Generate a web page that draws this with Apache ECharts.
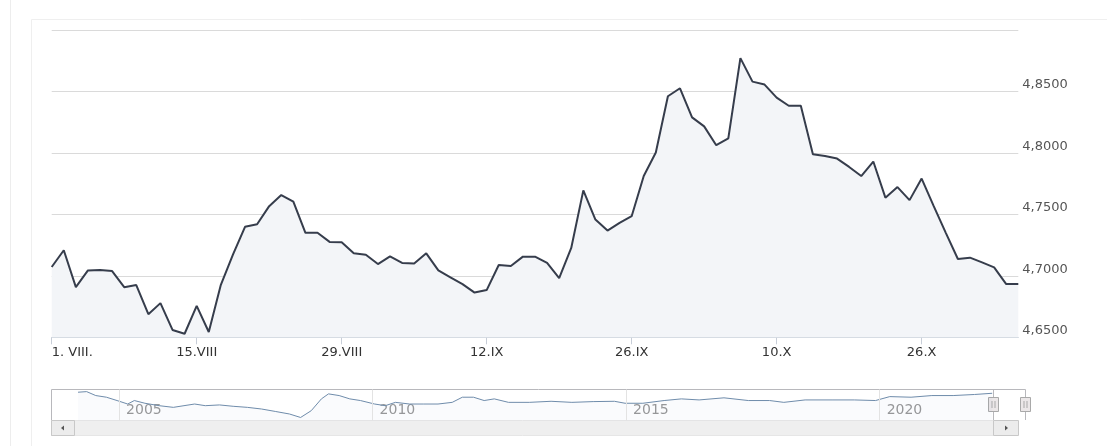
<!DOCTYPE html>
<html>
<head>
<meta charset="utf-8">
<script src="https://cdn.jsdelivr.net/npm/echarts@6/dist/echarts.min.js"></script>
<style>
  html, body { margin: 0; padding: 0; background: #ffffff; }
  #chart { width: 1107px; height: 446px; }
</style>
</head>
<body>
<div id="chart"></div>
<script>
// ---- main series: daily rate, one point per trading session ----
var rateValues = [
  4.7072, 4.7208, 4.6908, 4.7044, 4.7047, 4.7039, 4.6908, 4.6925, 4.6688, 4.6778,
  4.6560, 4.6529, 4.6756, 4.6543, 4.6927, 4.7172, 4.7399, 4.7420, 4.7567, 4.7657,
  4.7603, 4.7350, 4.7350, 4.7276, 4.7273, 4.7183, 4.7172, 4.7096, 4.7158, 4.7105,
  4.7101, 4.7183, 4.7044, 4.6987, 4.6933, 4.6864, 4.6884, 4.7088, 4.7080, 4.7156,
  4.7156, 4.7105, 4.6982, 4.7227, 4.7695, 4.7458, 4.7368, 4.7431, 4.7485, 4.7812,
  4.8003, 4.8461, 4.8526, 4.8289, 4.8216, 4.8063, 4.8118, 4.8771, 4.8580, 4.8556,
  4.8450, 4.8384, 4.8384, 4.7989, 4.7975, 4.7954, 4.7886, 4.7812, 4.7930, 4.7636,
  4.7722, 4.7616, 4.7791, 4.7567, 4.7350, 4.7137, 4.7148, 4.7109, 4.7069, 4.6933,
  4.6933
];
// session position of each date tick and its label
var tickIndices = [0, 12, 24, 36, 48, 60, 72];
var tickLabels  = ['1. VIII.', '15.VIII', '29.VIII', '12.IX', '26.IX', '10.X', '26.X'];
var categories = rateValues.map(function (v, i) { return String(i); });

// y axis range
var yMin = 4.65, yMax = 4.90, yStep = 0.05;

// ---- navigator: long-term history (fractional year, rate) ----
var navYears = [
  2004.19, 2004.36, 2004.54, 2004.75, 2004.96, 2005.17, 2005.30, 2005.51, 2005.79, 2006.07,
  2006.28, 2006.49, 2006.70, 2006.98, 2007.25, 2007.53, 2007.81, 2008.08, 2008.36, 2008.58,
  2008.79, 2008.99, 2009.13, 2009.34, 2009.55, 2009.76, 2010.04, 2010.25, 2010.45, 2010.73,
  2011.01, 2011.29, 2011.57, 2011.77, 2011.99, 2012.20, 2012.40, 2012.68, 2013.09, 2013.52,
  2013.93, 2014.35, 2014.77, 2014.98, 2015.33, 2015.75, 2016.09, 2016.44, 2016.93, 2017.41,
  2017.83, 2018.11, 2018.53, 2019.08, 2019.50, 2019.92, 2020.20, 2020.62, 2021.03, 2021.45,
  2021.87, 2022.22
];
var navValues = [
  4.87, 4.91, 4.65, 4.54, 4.32, 4.09, 4.32, 4.14, 3.98, 3.87,
  3.98, 4.09, 3.98, 4.03, 3.94, 3.87, 3.76, 3.60, 3.43, 3.20,
  3.65, 4.43, 4.76, 4.65, 4.43, 4.32, 4.09, 3.98, 4.20, 4.09,
  4.09, 4.09, 4.20, 4.54, 4.54, 4.32, 4.43, 4.20, 4.20, 4.27,
  4.20, 4.25, 4.27, 4.14, 4.14, 4.32, 4.43, 4.36, 4.50, 4.32,
  4.32, 4.20, 4.36, 4.36, 4.36, 4.32, 4.58, 4.54, 4.65, 4.65,
  4.72, 4.80
];
var navYearLabels = [2005, 2010, 2015, 2020];
var navXMin = 2003.667, navXMax = 2022.877;
var navYMin = 3.0, navYMax = 5.05;

var navData = navYears.map(function (y, i) { return [y, navValues[i]]; });

var FONT = '"DejaVu Sans", Verdana, sans-serif';
var chart = echarts.init(document.getElementById('chart'), null, { renderer: 'canvas' });

function handle(x) {
  return [
    { type: 'rect', shape: { x: x, y: 397.5, width: 10, height: 14 },
      style: { fill: '#ebe7e8', stroke: '#a9a9a9', lineWidth: 1 }, silent: true },
    { type: 'line', shape: { x1: x + 3.5, y1: 401, x2: x + 3.5, y2: 408 },
      style: { stroke: '#a9a9a9', lineWidth: 1 }, silent: true },
    { type: 'line', shape: { x1: x + 6.5, y1: 401, x2: x + 6.5, y2: 408 },
      style: { stroke: '#a9a9a9', lineWidth: 1 }, silent: true }
  ];
}

var chrome = [
  // page frame
  { type: 'line', shape: { x1: 10.5, y1: 0, x2: 10.5, y2: 446 }, style: { stroke: '#ededed', lineWidth: 1 }, silent: true },
  { type: 'line', shape: { x1: 31.5, y1: 19.5, x2: 31.5, y2: 446 }, style: { stroke: '#efefef', lineWidth: 1 }, silent: true },
  { type: 'line', shape: { x1: 31.5, y1: 19.5, x2: 1107, y2: 19.5 }, style: { stroke: '#efefef', lineWidth: 1 }, silent: true },
  // navigator outline
  { type: 'polyline', shape: { points: [[51.5, 436], [51.5, 389.5], [1025.5, 389.5], [1025.5, 420]] },
    style: { stroke: '#b8b8bc', lineWidth: 1, fill: null }, silent: true },
  { type: 'line', shape: { x1: 993.5, y1: 389.5, x2: 993.5, y2: 420 }, style: { stroke: '#b8b8bc', lineWidth: 1 }, silent: true },
  // scrollbar track
  { type: 'rect', shape: { x: 51.5, y: 420.5, width: 942, height: 15 },
    style: { fill: '#efefef', stroke: '#e6e6e6', lineWidth: 1 }, silent: true },
  // left button
  { type: 'rect', shape: { x: 51.5, y: 420.5, width: 23, height: 15 },
    style: { fill: '#ececec', stroke: '#c8c8c8', lineWidth: 1 }, silent: true },
  { type: 'polygon', shape: { points: [[61, 428], [64, 425.5], [64, 430.5]] }, style: { fill: '#555555' }, silent: true },
  // right button
  { type: 'rect', shape: { x: 993.5, y: 420.5, width: 25, height: 15 },
    style: { fill: '#ececec', stroke: '#c8c8c8', lineWidth: 1 }, silent: true },
  { type: 'polygon', shape: { points: [[1008, 428], [1005, 425.5], [1005, 430.5]] }, style: { fill: '#555555' }, silent: true }
].concat(handle(988.5)).concat(handle(1020.5));

var option = {
  animation: false,
  backgroundColor: '#ffffff',
  textStyle: { fontFamily: FONT },
  grid: [
    { left: 51.7, right: 88.7, top: 30, height: 307.3, containLabel: false },
    { left: 51.5, right: 81.5, top: 389.5, height: 31, containLabel: false }
  ],
  xAxis: [
    {
      type: 'category', gridIndex: 0, data: categories, boundaryGap: false,
      axisLine: { show: true, lineStyle: { color: '#cdd3dc', width: 1 } },
      axisTick: {
        show: true, length: 7, lineStyle: { color: '#c8ced8' },
        interval: function (i) { return tickIndices.indexOf(i) >= 0; }
      },
      axisLabel: {
        show: true, color: '#333333', fontSize: 13, fontFamily: FONT, margin: 9,
        alignMinLabel: 'left',
        interval: function (i) { return tickIndices.indexOf(i) >= 0; },
        formatter: function (v, i) {
          var k = tickIndices.indexOf(Number(v));
          return k >= 0 ? tickLabels[k] : '';
        }
      },
      splitLine: { show: false }
    },
    {
      type: 'value', gridIndex: 1, min: navXMin, max: navXMax,
      axisLine: { show: false }, axisTick: { show: false }, splitLine: { show: false },
      axisLabel: {
        show: true, inside: true, customValues: navYearLabels, align: 'left',
        verticalAlign: 'bottom', margin: 3, padding: [0, 0, 0, 7],
        color: '#999999', fontSize: 14, fontFamily: FONT,
        formatter: function (v) { return String(Math.round(v)); }
      }
    }
  ],
  yAxis: [
    {
      type: 'value', gridIndex: 0, position: 'right', min: yMin, max: yMax, interval: yStep,
      axisLine: { show: false }, axisTick: { show: false },
      splitLine: { show: true, lineStyle: { color: '#dadada', width: 1 } },
      axisLabel: {
        show: true, showMaxLabel: false, align: 'left', verticalAlign: 'bottom', margin: 4,
        color: '#555555', fontSize: 13, fontFamily: FONT,
        formatter: function (v) { return v.toFixed(4).replace('.', ','); }
      }
    },
    {
      type: 'value', gridIndex: 1, min: navYMin, max: navYMax, show: false,
      splitLine: { show: false }
    }
  ],
  series: [
    {
      type: 'line', xAxisIndex: 0, yAxisIndex: 0, data: rateValues,
      symbol: 'none', showSymbol: false, smooth: false, silent: true,
      lineStyle: { color: '#363d4c', width: 2 },
      areaStyle: { color: '#f3f5f8', origin: 'start', opacity: 1 },
      z: 3
    },
    {
      type: 'line', xAxisIndex: 1, yAxisIndex: 1, data: navData,
      symbol: 'none', showSymbol: false, silent: true,
      lineStyle: { color: '#6f8cab', width: 1 },
      areaStyle: { color: 'rgba(69,114,167,0.04)', origin: 'start' },
      markLine: {
        silent: true, symbol: ['none', 'none'], label: { show: false },
        lineStyle: { color: '#e3e3e3', width: 1, type: 'solid' },
        data: navYearLabels.map(function (y) { return { xAxis: y }; })
      }
    }
  ],
  graphic: chrome
};
chart.setOption(option);
</script>
</body>
</html>
